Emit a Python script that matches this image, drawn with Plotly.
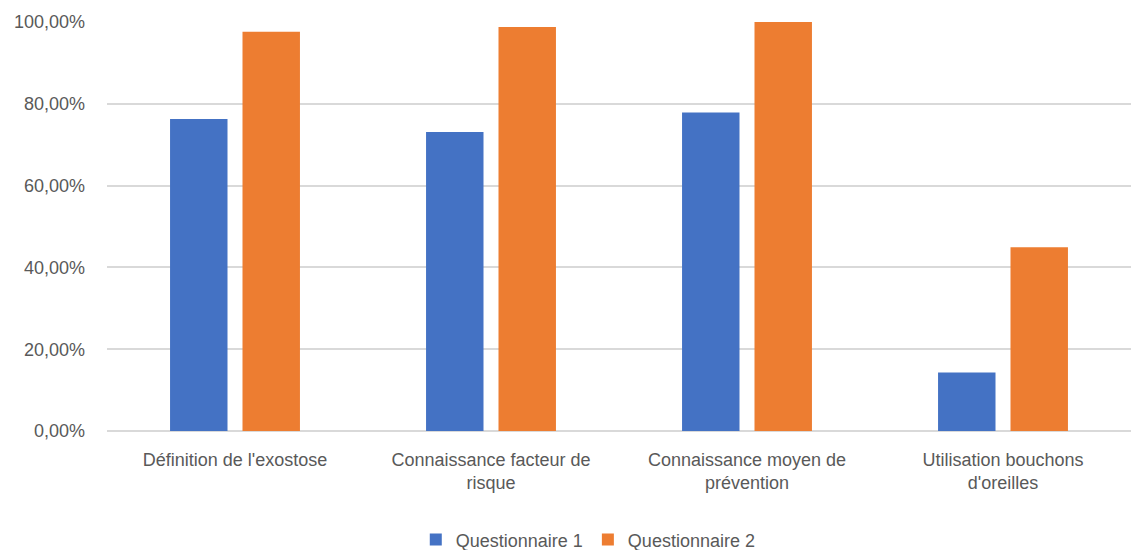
import plotly.graph_objects as go

# Survey results: share of correct / positive answers per topic
categories = [
    "Définition de l'exostose",
    "Connaissance facteur de<br>risque",
    "Connaissance moyen de<br>prévention",
    "Utilisation bouchons<br>d'oreilles",
]
questionnaire_1 = [0.763, 0.731, 0.779, 0.143]
questionnaire_2 = [0.976, 0.988, 1.000, 0.449]
y_ticks = [0, 0.2, 0.4, 0.6, 0.8, 1.0]

FONT = "Liberation Sans, Arial, sans-serif"
TEXT_GRAY = "#595959"
GRID = "#D9D9D9"

fig = go.Figure()
fig.add_trace(go.Bar(
    name="Questionnaire 1", x=categories, y=questionnaire_1,
    marker=dict(color="#4472C4", line=dict(width=0)),
))
fig.add_trace(go.Bar(
    name="Questionnaire 2", x=categories, y=questionnaire_2,
    marker=dict(color="#ED7D31", line=dict(width=0)),
))

fig.update_layout(
    width=1131, height=550,
    margin=dict(l=107, r=0, t=22, b=119, autoexpand=False),
    paper_bgcolor="white", plot_bgcolor="white",
    separators=", ",
    barmode="group", bargap=0.434, bargroupgap=0.207,
    font=dict(family=FONT, size=18, color=TEXT_GRAY),
    showlegend=True,
    legend=dict(
        orientation="h", x=0.47, xanchor="center", y=-0.266, yanchor="middle",
        font=dict(family=FONT, size=18, color=TEXT_GRAY),
        itemwidth=30, traceorder="normal",
    ),
    xaxis=dict(
        showgrid=False, showline=False, ticks="", automargin=False,
        tickfont=dict(family=FONT, size=18, color=TEXT_GRAY),
        ticklabelstandoff=16,
    ),
    yaxis=dict(
        range=[0, 1.0], tickvals=y_ticks, tickformat=".2%",
        showgrid=True, gridcolor=GRID, gridwidth=1.5,
        zeroline=True, zerolinecolor=GRID, zerolinewidth=1.5,
        showline=False, ticks="", automargin=False,
        tickfont=dict(family=FONT, size=18, color=TEXT_GRAY),
        ticklabelstandoff=21,
    ),
)

fig.write_html("out.html")
